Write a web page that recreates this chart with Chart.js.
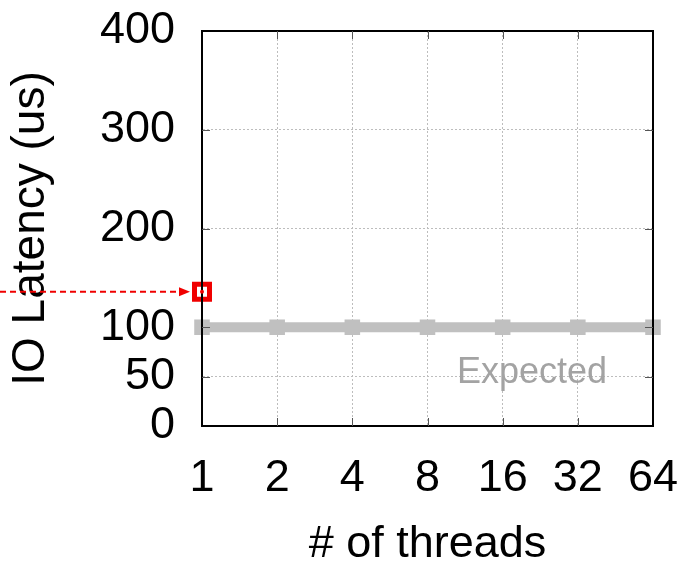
<!DOCTYPE html>
<html>
<head>
<meta charset="utf-8">
<script src="https://cdn.jsdelivr.net/npm/chart.js@4.4.1/dist/chart.umd.min.js"></script>
<style>
  html, body { margin: 0; padding: 0; background: #fff; }
  #wrap { width: 679px; height: 567px; }
</style>
</head>
<body>
<div id="wrap"><canvas id="latencyChart" width="679" height="567"></canvas></div>
<script>
// --- data ---
const threads = ['1', '2', '4', '8', '16', '32', '64'];
const expectedLatency = [100, 100, 100, 100, 100, 100, 100];
const measuredLatency = [136, null, null, null, null, null, null];
const yTicks = [0, 50, 100, 200, 300, 400];

const FONT = '"Liberation Sans", Arial, Helvetica, sans-serif';

// cadre + petites graduations vers l'interieur + fleche rouge + etiquette "Expected"
const decorPlugin = {
    id: 'decor',
    afterDraw(chart) {
        const ctx = chart.ctx;
        const x = chart.scales.x, y = chart.scales.y;
        const a = chart.chartArea;
        ctx.save();

        // cadre
        ctx.strokeStyle = '#000';
        ctx.lineWidth = 2;
        ctx.strokeRect(a.left, a.top, a.right - a.left, a.bottom - a.top);

        // graduations
        ctx.strokeStyle = '#555';
        ctx.lineWidth = 1;
        ctx.beginPath();
        yTicks.forEach(v => {
            if (v === 0 || v === 400) return;
            const py = Math.round(y.getPixelForValue(v)) + 0.5;
            ctx.moveTo(a.left, py); ctx.lineTo(a.left + 8, py);
            ctx.moveTo(a.right, py); ctx.lineTo(a.right - 8, py);
        });
        threads.forEach((t, i) => {
            if (i === 0 || i === threads.length - 1) return;
            const px = Math.round(x.getPixelForValue(i)) + 0.5;
            ctx.moveTo(px, a.bottom); ctx.lineTo(px, a.bottom - 8);
            ctx.moveTo(px, a.top); ctx.lineTo(px, a.top + 8);
        });
        ctx.stroke();

        // fleche rouge pointillee
        const ay = y.getPixelForValue(measuredLatency[0]);
        const ax = x.getPixelForValue(0) - 12;
        ctx.strokeStyle = '#f00000';
        ctx.fillStyle = '#f00000';
        ctx.lineWidth = 2;
        ctx.setLineDash([6, 4]);
        ctx.beginPath();
        ctx.moveTo(0, ay); ctx.lineTo(ax - 8, ay);
        ctx.stroke();
        ctx.setLineDash([]);
        ctx.beginPath();
        ctx.moveTo(ax, ay);
        ctx.lineTo(ax - 11, ay - 4.5);
        ctx.lineTo(ax - 11, ay + 4.5);
        ctx.closePath();
        ctx.fill();

        // point au centre du carre
        const cx = x.getPixelForValue(0);
        ctx.beginPath();
        ctx.arc(cx, ay, 2, 0, Math.PI * 2);
        ctx.fill();

        // etiquette
        const step = x.getPixelForValue(1) - x.getPixelForValue(0);
        ctx.font = '36px ' + FONT;
        ctx.fillStyle = '#a3a3a3';
        ctx.textAlign = 'center';
        ctx.textBaseline = 'middle';
        ctx.fillText('Expected', x.getPixelForValue(4) + 0.39 * step, y.getPixelForValue(54));
        ctx.restore();
    }
};

const ctxLatency = document.getElementById('latencyChart').getContext('2d');
const latencyChart = new Chart(ctxLatency, {
    type: 'line',
    data: {
        labels: threads,
        datasets: [{
            label: 'Expected',
            data: expectedLatency,
            borderColor: '#c0c0c0',
            backgroundColor: '#c0c0c0',
            borderWidth: 10,
            pointStyle: 'rect',
            pointRadius: 11,
            pointBorderWidth: 0,
            tension: 0,
            clip: false,
            order: 2
        }, {
            label: 'Measured',
            data: measuredLatency,
            showLine: false,
            pointStyle: 'rect',
            pointRadius: 10.6,
            pointBorderWidth: 5,
            pointBorderColor: '#f00000',
            pointBackgroundColor: '#ffffff',
            clip: false,
            order: 1
        }]
    },
    options: {
        responsive: false,
        animation: false,
        layout: { padding: { top: 31, right: 26, left: 0, bottom: 0 } },
        scales: {
            x: {
                offset: false,
                grid: { color: '#bdbdbd', lineWidth: 1, drawTicks: false },
                border: { display: true, color: '#000', width: 2, dash: [2, 2] },
                ticks: {
                    color: '#000',
                    font: { family: FONT, size: 45 },
                    padding: 26,
                    maxRotation: 0,
                    autoSkip: false
                },
                title: {
                    display: true,
                    text: '# of threads',
                    color: '#000',
                    font: { family: FONT, size: 45, lineHeight: 1 },
                    padding: { top: 0, bottom: 0 }
                },
                afterFit(scale) {
                    scale.height = 141;
                    scale.paddingLeft = 0;
                    scale.paddingRight = 0;
                }
            },
            y: {
                min: 0,
                max: 400,
                afterBuildTicks(scale) { scale.ticks = yTicks.map(v => ({ value: v })); },
                grid: { color: '#bdbdbd', lineWidth: 1, drawTicks: false },
                border: { display: true, color: '#000', width: 2, dash: [2, 2] },
                ticks: {
                    color: '#000',
                    font: { family: FONT, size: 45 },
                    padding: 27
                },
                title: {
                    display: true,
                    text: 'IO Latency (us)',
                    color: '#000',
                    font: { family: FONT, size: 46 },
                    padding: { top: 4, bottom: 0 }
                },
                afterFit(scale) {
                    scale.width = 202;
                    scale.paddingTop = 0;
                    scale.paddingBottom = 0;
                }
            }
        },
        plugins: {
            legend: { display: false },
            tooltip: { enabled: false }
        }
    },
    plugins: [decorPlugin]
});
</script>
</body>
</html>
